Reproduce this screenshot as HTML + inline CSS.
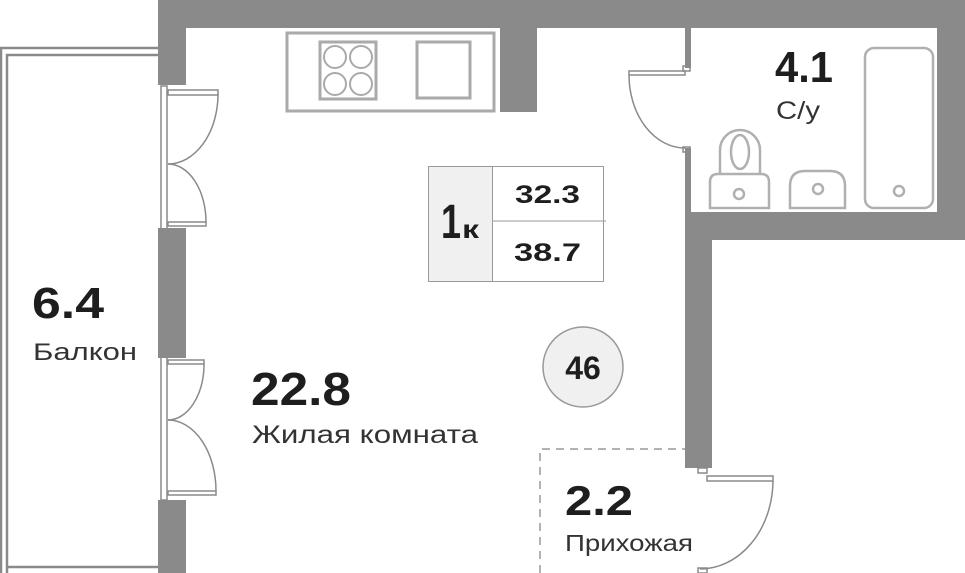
<!DOCTYPE html>
<html><head><meta charset="utf-8"><style>
html,body{margin:0;padding:0;background:#fff;width:965px;height:573px;overflow:hidden}
svg{display:block}
text{font-family:"Liberation Sans",sans-serif;fill:#1e1e1e}
.l{fill:#333}
</style></head><body>
<svg width="965" height="573" viewBox="0 0 965 573" xmlns="http://www.w3.org/2000/svg">
<g fill="#8a8a8a">
<rect x="158" y="0" width="807" height="28"/>
<rect x="937" y="0" width="28" height="240"/>
<rect x="685" y="212" width="280" height="28"/>
<rect x="685" y="212" width="27" height="256"/>
<rect x="158" y="0" width="28" height="85"/>
<rect x="158" y="228" width="28" height="130"/>
<rect x="158" y="500" width="28" height="73"/>
<rect x="500" y="28" width="37" height="84"/>
<rect x="685" y="28" width="6" height="40"/>
<rect x="685" y="148" width="6" height="64"/>
</g>
<g fill="none" stroke="#8a8a8a" stroke-width="2.5">
<path d="M1,573 V48 H158"/>
<path d="M7,573 V55 H158"/>
<path d="M7,567 H158"/>
</g>
<g fill="none" stroke="#aaa" stroke-width="3">
<rect x="287" y="33" width="207" height="78"/>
<rect x="320" y="42" width="56" height="57"/>
<rect x="417" y="42" width="53" height="56"/>
</g>
<g fill="none" stroke="#aaa" stroke-width="2">
<circle cx="335" cy="57" r="11"/><circle cx="361" cy="57" r="11"/>
<circle cx="335" cy="84" r="11"/><circle cx="361" cy="84" r="11"/>
</g>
<g fill="none" stroke="#8a8a8a" stroke-width="1.5">
<rect x="161" y="86" width="6" height="414"/>
<rect x="168" y="90" width="50" height="5"/>
<path d="M218,95 A50,70 0 0 1 168,164"/>
<rect x="168" y="222" width="38" height="4"/>
<path d="M206,222 A38,58 0 0 0 168,164"/>
<rect x="168" y="360" width="36" height="4"/>
<path d="M204,364 A36,56 0 0 1 168,420"/>
<rect x="168" y="491" width="48" height="4"/>
<path d="M216,491 A48,71 0 0 0 168,420"/>
<rect x="629" y="71" width="56" height="4"/>
<path d="M629,75 A56,73 0 0 0 685,148"/>
<rect x="683" y="66" width="7" height="5"/><rect x="683" y="147" width="7" height="5"/>
<rect x="698" y="468" width="9" height="5"/>
<rect x="707" y="476" width="66" height="5"/>
<path d="M773,481 A73,89 0 0 1 700,569"/>
<rect x="698" y="568" width="9" height="5"/>
</g>
<g fill="none" stroke="#b0b0b0" stroke-width="2.5">
<rect x="865" y="48" width="68" height="160" rx="9"/>
<circle cx="899" cy="191" r="5"/>
<path d="M710,208 V182 Q710,174 718,174 H761 Q769,174 769,182 V208 Z"/>
<path d="M720,174 V150 A20,20 0 0 1 760,150 V174"/>
<ellipse cx="740" cy="152" rx="9" ry="17"/>
<circle cx="739" cy="194" r="5"/>
<path d="M790,208 V186 Q790,171 805,171 H830 Q845,171 845,186 V208 Z"/>
<circle cx="818" cy="189" r="5"/>
</g>
<path d="M540,573 V449 H685" fill="none" stroke="#999" stroke-width="1.5" stroke-dasharray="8,6"/>
<rect x="428.5" y="166.5" width="64" height="115" fill="#f0f0f0" stroke="#999"/>
<rect x="492.5" y="166.5" width="111" height="115" fill="none" stroke="#999"/>
<line x1="492" y1="221" x2="606" y2="221" stroke="#999"/>
<text x="441" y="238" font-size="48" font-weight="bold" textLength="20" lengthAdjust="spacingAndGlyphs">1</text>
<text x="462" y="238" font-size="26" font-weight="bold" textLength="17" lengthAdjust="spacingAndGlyphs">к</text>
<text x="515" y="203" font-size="25" font-weight="bold" textLength="65" lengthAdjust="spacingAndGlyphs">32.3</text>
<text x="514" y="261" font-size="25" font-weight="bold" textLength="67" lengthAdjust="spacingAndGlyphs">38.7</text>
<circle cx="583" cy="367" r="40" fill="#f0f0f0" stroke="#999" stroke-width="1.5"/>
<text x="583" y="379" font-size="32" font-weight="bold" text-anchor="middle">46</text>
<text x="775" y="82" font-size="44" font-weight="bold" textLength="58" lengthAdjust="spacingAndGlyphs">4.1</text>
<text class="l" x="776" y="119" font-size="25" textLength="44" lengthAdjust="spacingAndGlyphs">С/у</text>
<text x="32" y="318" font-size="44" font-weight="bold" textLength="72" lengthAdjust="spacingAndGlyphs">6.4</text>
<text class="l" x="33" y="360" font-size="24" textLength="104" lengthAdjust="spacingAndGlyphs">Балкон</text>
<text x="251" y="405" font-size="46" font-weight="bold" textLength="100" lengthAdjust="spacingAndGlyphs">22.8</text>
<text class="l" x="252" y="443" font-size="25" textLength="226" lengthAdjust="spacingAndGlyphs">Жилая комната</text>
<text x="565" y="515" font-size="42" font-weight="bold" textLength="68" lengthAdjust="spacingAndGlyphs">2.2</text>
<text class="l" x="565" y="551" font-size="23" textLength="128" lengthAdjust="spacingAndGlyphs">Прихожая</text>
</svg>
</body></html>
